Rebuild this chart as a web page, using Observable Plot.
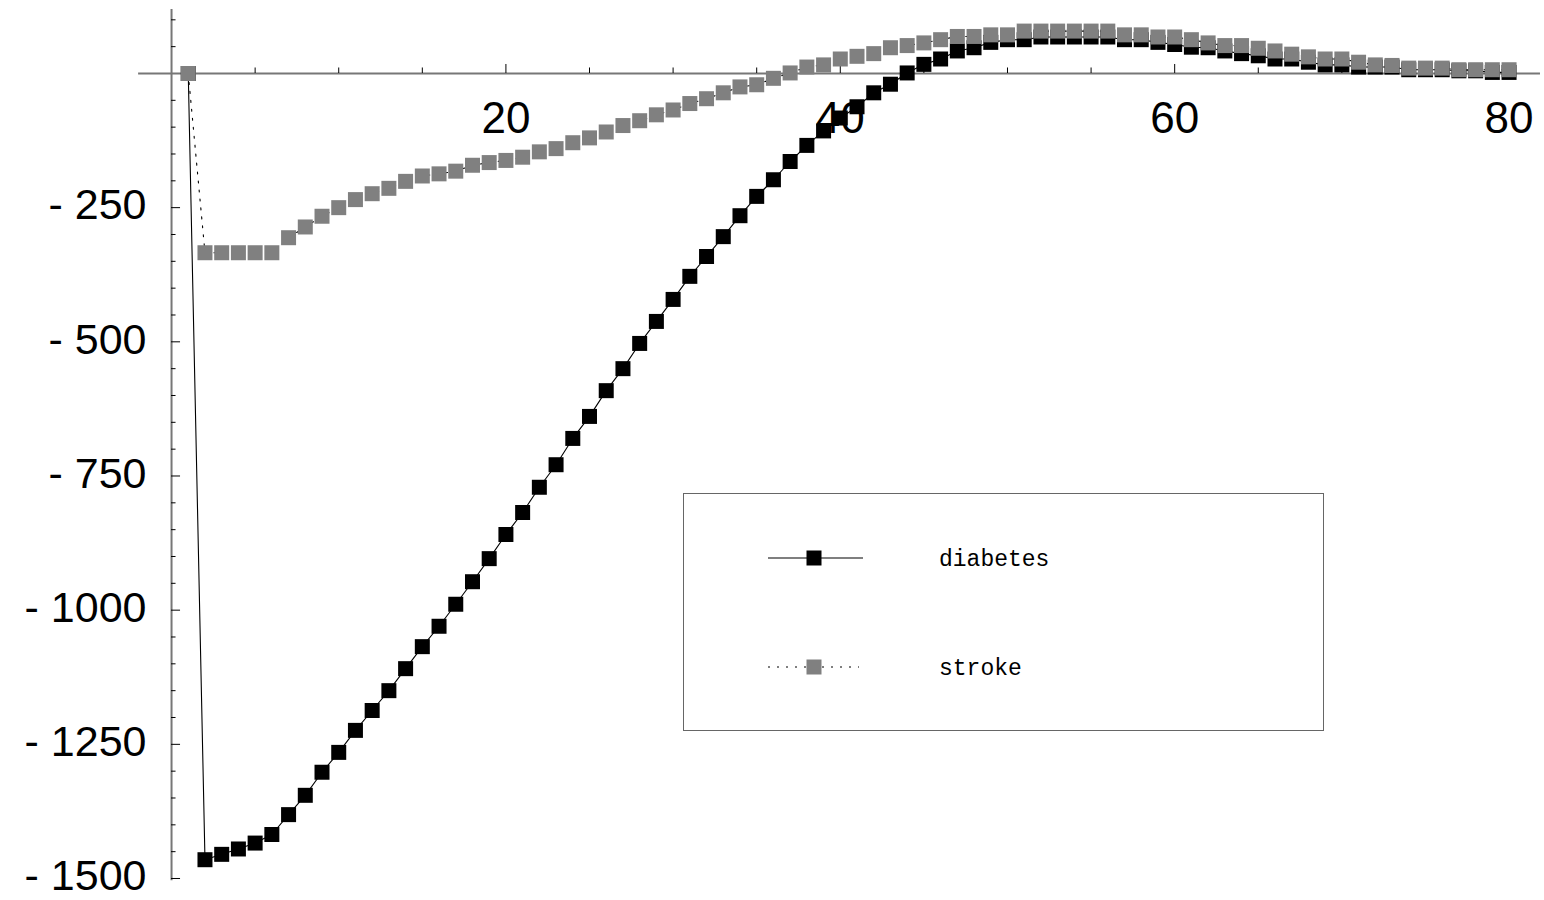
<!DOCTYPE html>
<html>
<head>
<meta charset="utf-8">
<script src="https://cdn.jsdelivr.net/npm/d3@7"></script>
<script src="https://cdn.jsdelivr.net/npm/@observablehq/plot@0.6"></script>
<style>
html, body { margin: 0; padding: 0; background: #fff; }
#wrap { position: relative; width: 1544px; height: 900px; overflow: hidden; }
#legend { position: absolute; left: 683px; top: 493px; width: 641px; height: 238px; box-sizing: border-box; border: 1.7px solid #666; background: #fff; }
#legend svg { position: absolute; left: 0; top: 0; }
</style>
</head>
<body>
<div id="wrap"></div>
<script>
// ---- data ----
const ages = [1,2,3,4,5,6,7,8,9,10,11,12,13,14,15,16,17,18,19,20,
  21,22,23,24,25,26,27,28,29,30,31,32,33,34,35,36,37,38,39,40,
  41,42,43,44,45,46,47,48,49,50,51,52,53,54,55,56,57,58,59,60,
  61,62,63,64,65,66,67,68,69,70,71,72,73,74,75,76,77,78,79,80];

const diabetes = [0,-1465,-1455,-1445,-1434,-1418,-1381,-1345,-1302,-1265,
  -1224,-1187,-1150,-1109,-1068,-1030,-989,-947,-904,-859,
  -818,-771,-729,-680,-639,-591,-550,-503,-462,-421,
  -378,-341,-304,-265,-229,-198,-164,-134,-107,-83,
  -62,-36,-20,1,17,27,42,48,58,63,
  63,68,68,68,68,68,63,63,58,54,
  49,48,42,37,33,27,27,21,16,16,
  12,12,12,7,7,7,5,5,2,2];

const stroke = [0,-334,-334,-334,-334,-334,-306,-286,-266,-250,
  -235,-224,-214,-201,-191,-187,-182,-171,-166,-162,
  -156,-146,-140,-129,-120,-109,-97,-88,-77,-68,
  -56,-47,-36,-25,-21,-9,1,12,16,27,
  32,37,48,52,57,63,69,69,72,72,
  79,79,79,79,79,79,72,72,68,68,
  63,57,52,52,47,42,36,31,27,27,
  21,16,15,10,10,10,7,7,7,7];

const seriesNames = ["diabetes", "stroke"];
const xTickLabels = [20, 40, 60, 80];
const xTicks = [5,10,15,20,25,30,35,40,45,50,55,60,65,70,75,80];
const yTickLabels = [-1500, -1250, -1000, -750, -500, -250];
const yTicks = [-1500,-1450,-1400,-1350,-1300,-1250,-1200,-1150,-1100,-1050,
  -1000,-950,-900,-850,-800,-750,-700,-650,-600,-550,
  -500,-450,-400,-350,-300,-250,-200,-150,-100,-50,50,100];

// ---- layout ----
const W = 1544, H = 900;
const xDomain = [-10.23, 82.12];
const yDomain = [-1541, 136];
const kx = W / (xDomain[1] - xDomain[0]);
const ky = H / (yDomain[1] - yDomain[0]);
const pxX = p => p / kx;   // pixel length -> x data units
const pxY = p => p / ky;   // pixel length -> y data units

const BLACK = "#000000", GRAY = "#808080";
const sansFont = "'Liberation Sans', Arial, Helvetica, sans-serif";
const monoFont = "'Liberation Mono', 'Courier New', monospace";

const dRows = ages.map((a, i) => ({x: a, y: diabetes[i]}));
const sRows = ages.map((a, i) => ({x: a, y: stroke[i]}));
const SQ_R = 15 / Math.sqrt(Math.PI); // 15px square
const DASH = "2,7";

const chart = Plot.plot({
  width: W,
  height: H,
  margin: 0,
  x: {domain: xDomain, axis: null},
  y: {domain: yDomain, axis: null},
  style: {background: "#fff", overflow: "visible"},
  marks: [
    // axes
    Plot.ruleY([0], {x1: () => -1.97, x2: () => 81.88, stroke: "#777", strokeWidth: 2}),
    Plot.ruleX([0], {y1: () => -1504, y2: () => 119, stroke: "#777", strokeWidth: 2}),
    // ticks
    Plot.ruleX(xTicks, {x: d => d, y1: () => 0, y2: d => xTickLabels.includes(d) ? pxY(9) : pxY(5.5), stroke: BLACK, strokeWidth: 1}),
    Plot.ruleY(yTicks, {y: d => d, x1: () => 0, x2: d => yTickLabels.includes(d) ? pxX(9) : pxX(4.5), stroke: BLACK, strokeWidth: 1}),
    // tick labels
    Plot.text(xTickLabels, {x: d => d, y: () => 0, dy: 45, text: d => String(d), fontSize: 44, textAnchor: "middle", fontFamily: sansFont, fill: BLACK}),
    Plot.text(yTickLabels, {x: () => 0, y: d => d, dx: -25, dy: -2, text: d => "- " + Math.abs(d), fontSize: 43, textAnchor: "end", fontFamily: sansFont, fill: BLACK}),
    // diabetes
    Plot.line(dRows, {x: "x", y: "y", stroke: BLACK, strokeWidth: 1.1}),
    Plot.dot(dRows, {x: "x", y: "y", symbol: "square", r: SQ_R, fill: BLACK, stroke: "none"}),
    // stroke
    Plot.line(sRows, {x: "x", y: "y", stroke: BLACK, strokeWidth: 1.1, strokeDasharray: DASH}),
    Plot.dot(sRows, {x: "x", y: "y", symbol: "square", r: SQ_R, fill: GRAY, stroke: "none"})
  ]
});

const wrap = document.getElementById("wrap");
wrap.appendChild(chart);

// ---- legend ----
const legend = document.createElement("div");
legend.id = "legend";
wrap.appendChild(legend);
const lsvg = d3.select(legend).append("svg").attr("width", 641).attr("height", 238);
const legendItems = [
  {name: seriesNames[0], fill: BLACK, dash: null, y: 64, x2: 179},
  {name: seriesNames[1], fill: GRAY, dash: DASH, y: 173, x2: 175}
];
for (const it of legendItems) {
  lsvg.append("line").attr("x1", 84).attr("x2", it.x2).attr("y1", it.y).attr("y2", it.y)
    .attr("stroke", BLACK).attr("stroke-width", 1.1).attr("stroke-dasharray", it.dash);
  lsvg.append("rect").attr("x", 130 - 7.5).attr("y", it.y - 7.5).attr("width", 15).attr("height", 15).attr("fill", it.fill);
  lsvg.append("text").attr("x", 255).attr("y", it.y + 8).attr("font-family", monoFont)
    .attr("font-size", 23).attr("fill", BLACK).text(it.name);
}
</script>
</body>
</html>
